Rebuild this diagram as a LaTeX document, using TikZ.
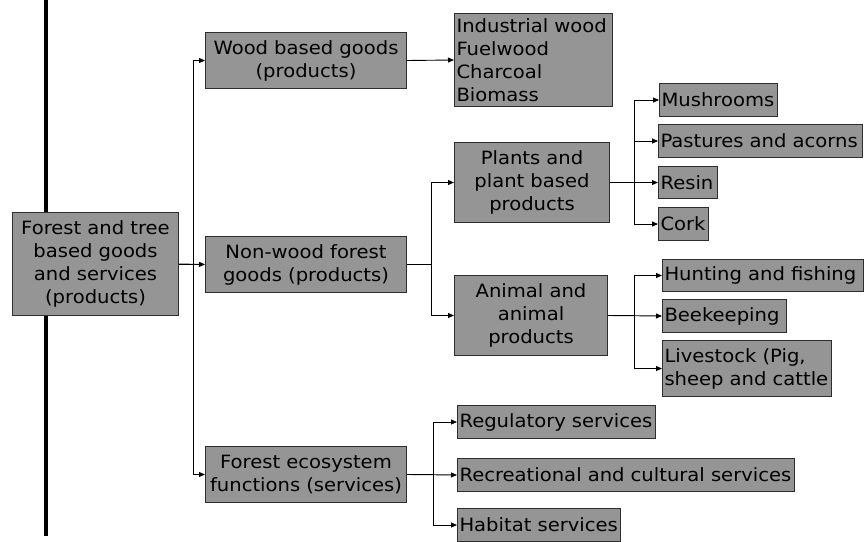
\documentclass[tikz,border=0pt]{standalone}
\usepackage{fontspec}
\setmainfont[FakeStretch=1.07]{DejaVu Sans}
\usetikzlibrary{arrows.meta}
\definecolor{boxfill}{HTML}{959595}
\definecolor{boxline}{HTML}{2E2E2E}
\begin{document}
\begin{tikzpicture}[x=1pt,y=-1pt,
  font=\fontsize{18.3}{23}\selectfont,
  bx/.style={draw=boxline,fill=boxfill,line width=1pt,inner xsep=2pt,inner ysep=0pt,anchor=north west},
  cbx/.style={bx,align=center},
  lbx/.style={bx,align=left},
  arr/.style={line width=0.9pt,-{Triangle[length=6pt,width=5pt]}}]
\useasboundingbox (0,0) rectangle (866,541);
\draw[line width=4pt] (46,0) -- (46,536);
% level 0
\node[cbx,text width=162pt,minimum height=103pt] (main) at (12,212) {Forest and tree\\based goods\\and services\\(products)};
% level 1
\node[cbx,text width=197pt,minimum height=56pt] (wood) at (205,32) {Wood based goods\\(products)};
\node[cbx,text width=197pt,minimum height=56pt] (nonwood) at (205,236) {Non-wood forest\\goods (products)};
\node[cbx,text width=197pt,minimum height=56pt] (eco) at (205,446) {Forest ecosystem\\functions (services)};
% level 2
\node[lbx,text width=154pt,minimum height=93pt] (ind) at (454,13) {Industrial wood\\Fuelwood\\Charcoal\\Biomass};
\node[cbx,text width=151pt,minimum height=80pt] (plants) at (454,142) {Plants and\\plant based\\products};
\node[cbx,text width=149pt,minimum height=80pt] (animal) at (454,275) {Animal and\\animal\\products};
\node[lbx,text width=194pt,minimum height=33pt] (reg) at (457,405) {Regulatory services};
\node[lbx,text width=333pt,minimum height=33pt] (rec) at (457,458) {Recreational and cultural services};
\node[lbx,text width=159pt,minimum height=33pt] (hab) at (457,508) {Habitat services};
% level 3
\node[lbx,text width=114pt,minimum height=33pt] (mush) at (659,83) {Mushrooms};
\node[lbx,text width=200pt,minimum height=33pt] (past) at (658,124) {Pastures and acorns};
\node[lbx,text width=55pt,minimum height=32pt] (resin) at (658,166) {Resin};
\node[lbx,text width=46pt,minimum height=33pt] (cork) at (658,207) {Cork};
\node[lbx,text width=197pt,minimum height=32pt] (hunt) at (662,259) {Hunting and fishing};
\node[lbx,text width=120pt,minimum height=33pt] (bee) at (662,299) {Beekeeping};
\node[lbx,text width=165pt,minimum height=56pt] (live) at (662,340) {Livestock (Pig,\\sheep and cattle};
% connectors
\draw[arr] (main.east) -- ++(14,0) |- (wood.west);
\draw[arr] (main.east) -- (nonwood.west);
\draw[arr] (main.east) -- ++(14,0) |- (eco.west);
\draw[arr] (wood.east) -- (ind.west);
\draw[arr] (nonwood.east) -- ++(24,0) |- (plants.west);
\draw[arr] (nonwood.east) -- ++(24,0) |- (animal.west);
\draw[arr] (plants.east) -- ++(24,0) |- (mush.west);
\draw[arr] (plants.east) -- ++(24,0) |- (past.west);
\draw[arr] (plants.east) -- (resin.west);
\draw[arr] (plants.east) -- ++(24,0) |- (cork.west);
\draw[arr] (animal.east) -- ++(26,0) |- (hunt.west);
\draw[arr] (animal.east) -- (bee.west);
\draw[arr] (animal.east) -- ++(26,0) |- (live.west);
\draw[arr] (eco.east) -- ++(26,0) |- (reg.west);
\draw[arr] (eco.east) -- (rec.west);
\draw[arr] (eco.east) -- ++(26,0) |- (hab.west);
\end{tikzpicture}
\end{document}
